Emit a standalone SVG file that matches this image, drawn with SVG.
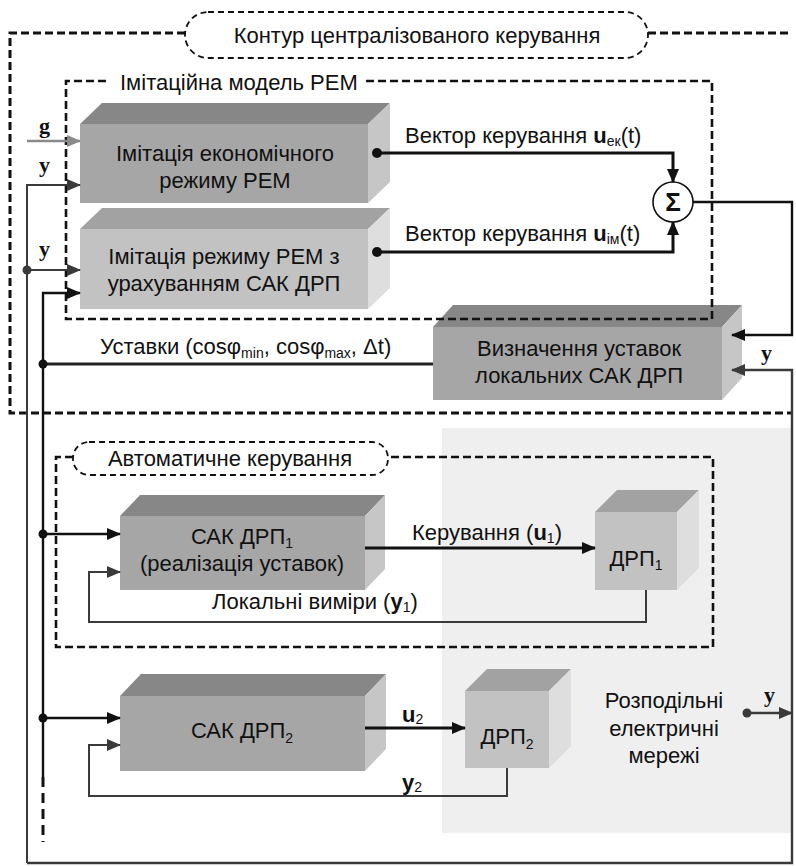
<svg xmlns="http://www.w3.org/2000/svg" width="796" height="866" viewBox="0 0 796 866" font-family="'Liberation Sans', 'Noto Sans', sans-serif">
<style>
text{font-family:'Liberation Sans','Noto Sans',sans-serif;font-size:22px;fill:#111}
.c{text-anchor:middle}
.b{font-weight:bold}
.lb{font-family:'Liberation Serif',serif;font-weight:bold;font-size:22px}
.sub{font-size:14px}
.dash{fill:none;stroke:#111;stroke-width:2.6;stroke-dasharray:8 4}
.pill{fill:#fff;stroke:#111;stroke-width:1.8;stroke-dasharray:6 4}
.dk .f{fill:#a6a6a6}.dk .t{fill:#878787}.dk .r{fill:#c6c6c6}
.lt .f{fill:#c2c2c2}.lt .t{fill:#a2a2a2}.lt .r{fill:#dedede}
.w{fill:none;stroke:#111;stroke-width:3}
.m{fill:none;stroke:#111;stroke-width:2.4}
.g{fill:none;stroke:#3a3a3a;stroke-width:2}
</style>
<defs>
<marker id="ab" markerUnits="userSpaceOnUse" markerWidth="14" markerHeight="12" refX="13" refY="6" orient="auto"><path d="M0,0 L14,6 L0,12 z" fill="#111"/></marker>
<marker id="ad" markerUnits="userSpaceOnUse" markerWidth="14" markerHeight="12" refX="13" refY="6" orient="auto"><path d="M0,0 L14,6 L0,12 z" fill="#3a3a3a"/></marker>
<marker id="ag" markerUnits="userSpaceOnUse" markerWidth="14" markerHeight="12" refX="13" refY="6" orient="auto"><path d="M0,0 L14,6 L0,12 z" fill="#8a8a8a"/></marker>
</defs>

<rect id="networks-bg" x="442" y="428" width="350" height="405" fill="#efefef"/>

<g id="block-econ" class="dk">
<polygon class="t" points="80,124 102,103 390,103 368,124"/>
<polygon class="r" points="368,124 390,103 390,182 368,203"/>
<rect class="f" x="80" y="124" width="288" height="79"/>
<text class="c" x="225" y="161">Імітація економічного</text>
<text class="c" x="225" y="188">режиму РЕМ</text>
</g>

<g id="block-sim" class="lt">
<polygon class="t" points="80,229 102,208 390,208 368,229"/>
<polygon class="r" points="368,229 390,208 390,288 368,309"/>
<rect class="f" x="80" y="229" width="288" height="80"/>
<text class="c" x="224" y="264">Імітація режиму РЕМ з</text>
<text class="c" x="224" y="291">урахуванням САК ДРП</text>
</g>

<g id="block-setpoints" class="dk">
<polygon class="t" points="433,327 453,305 742,305 722,327"/>
<polygon class="r" points="722,327 742,305 742,378 722,400"/>
<rect class="f" x="433" y="327" width="289" height="73"/>
<text class="c" x="579" y="356">Визначення уставок</text>
<text class="c" x="579" y="383">локальних САК ДРП</text>
</g>

<g id="block-sak1" class="dk">
<polygon class="t" points="120,516 140,495 385,495 365,516"/>
<polygon class="r" points="365,516 385,495 385,569 365,590"/>
<rect class="f" x="120" y="516" width="245" height="74"/>
<text class="c" x="242" y="544">САК ДРП<tspan class="sub" dy="4">1</tspan></text>
<text class="c" x="242" y="571">(реалізація уставок)</text>
</g>

<g id="block-drp1" class="lt">
<polygon class="t" points="595,512 617,490 699,490 677,512"/>
<polygon class="r" points="677,512 699,490 699,568 677,590"/>
<rect class="f" x="595" y="512" width="82" height="78"/>
<text class="c" x="636" y="566">ДРП<tspan class="sub" dy="4">1</tspan></text>
</g>

<g id="block-sak2" class="dk">
<polygon class="t" points="120,696 141,674 386,674 365,696"/>
<polygon class="r" points="365,696 386,674 386,749 365,771"/>
<rect class="f" x="120" y="696" width="245" height="75"/>
<text class="c" x="242" y="738">САК ДРП<tspan class="sub" dy="5">2</tspan></text>
</g>

<g id="block-drp2" class="lt">
<polygon class="t" points="465,691 487,669 571,669 549,691"/>
<polygon class="r" points="549,691 571,669 571,746 549,768"/>
<rect class="f" x="465" y="691" width="84" height="77"/>
<text class="c" x="507" y="744">ДРП<tspan class="sub" dy="5">2</tspan></text>
</g>

<g id="networks">
<text class="c" x="664" y="708">Розподільні</text>
<text class="c" x="664" y="736">електричні</text>
<text class="c" x="664" y="763">мережі</text>
</g>

<g id="sum">
<circle cx="673" cy="202" r="20" fill="#fff" stroke="#111" stroke-width="1.6"/>
<text class="c b" x="673" y="211" style="font-size:26px">Σ</text>
</g>

<g id="frames">
<path class="dash" d="M185,33 L10,33 L10,413 L792,413 M648,33 L792,33" style="stroke-width:3"/>
<rect class="pill" x="185" y="12" width="463" height="46" rx="23"/>
<text class="c" x="417" y="43">Контур централізованого керування</text>
<path class="dash" d="M106,81 L66,81 L66,319 L712,319 L712,81 L366,81"/>
<text x="120" y="90">Імітаційна модель РЕМ</text>
<path class="dash" d="M73,457 L56,457 L56,647 L713,647 L713,457 L388,457"/>
<rect class="pill" x="73" y="442" width="315" height="33" rx="16"/>
<text class="c" x="230" y="466">Автоматичне керування</text>
</g>

<g id="connectors">
<path d="M27,141 L80,141" fill="none" stroke="#8a8a8a" stroke-width="2.4" marker-end="url(#ag)"/>
<path class="g" d="M27,863 L27,185 L80,185" marker-end="url(#ad)"/>
<path class="g" d="M27,270 L80,270" marker-end="url(#ad)"/>
<circle cx="27" cy="270" r="4.5" fill="#3a3a3a"/>
<path class="g" d="M27,863 L792,863 L792,370 L732,370" style="stroke-width:2.4" marker-end="url(#ad)"/>
<path d="M747,713 L792,713" fill="none" stroke="#3a3a3a" stroke-width="2.6" marker-end="url(#ad)"/>
<circle cx="747" cy="713" r="4.5" fill="#3a3a3a"/>

<path class="w" d="M377,153 L673,153 L673,182" marker-end="url(#ab)"/>
<circle cx="377" cy="153" r="5" fill="#111"/>
<path class="w" d="M377,252 L673,252 L673,222" marker-end="url(#ab)"/>
<circle cx="377" cy="252" r="5" fill="#111"/>
<path class="m" d="M693,202 L792,202 L792,335 L732,335" marker-end="url(#ab)"/>

<path class="w" d="M433,364 L43,364" style="stroke:#222"/>
<circle cx="43" cy="364" r="4.5" fill="#111"/>
<path class="m" d="M43,777 L43,293 L80,293" marker-end="url(#ab)"/>
<path class="dash" d="M43,777 L43,842" style="stroke-width:3;stroke-dasharray:10 6"/>
<path class="m" d="M43,534 L120,534" marker-end="url(#ab)"/>
<circle cx="43" cy="534" r="4.5" fill="#111"/>
<path class="m" d="M43,718 L120,718" marker-end="url(#ab)"/>
<circle cx="43" cy="718" r="4.5" fill="#111"/>

<path class="w" d="M365,548 L595,548" marker-end="url(#ab)"/>
<path class="g" d="M646,590 L646,622 L89,622 L89,572 L120,572" marker-end="url(#ad)"/>
<path class="w" d="M365,728 L465,728" marker-end="url(#ab)"/>
<path class="g" d="M507,768 L507,796 L89,796 L89,745 L120,745" marker-end="url(#ad)"/>
</g>

<g id="labels">
<text class="lb" x="39" y="133">g</text>
<text class="lb" x="39" y="172">y</text>
<text class="lb" x="39" y="256">y</text>
<text x="405" y="143">Вектор керування <tspan class="b">u</tspan><tspan class="sub" dy="3">ек</tspan><tspan dy="-3">(t)</tspan></text>
<text x="405" y="241">Вектор керування <tspan class="b">u</tspan><tspan class="sub" dy="3">ім</tspan><tspan dy="-3">(t)</tspan></text>
<text x="100" y="354">Уставки (cosφ<tspan class="sub" dy="4">min</tspan><tspan dy="-4">, cosφ</tspan><tspan class="sub" dy="4">max</tspan><tspan dy="-4">, Δt)</tspan></text>
<text class="lb" x="761" y="360">y</text>
<text x="412" y="540">Керування (<tspan class="b">u</tspan><tspan class="sub" dy="3">1</tspan><tspan dy="-3">)</tspan></text>
<text x="212" y="609">Локальні виміри (<tspan class="b">y</tspan><tspan class="sub" dy="3">1</tspan><tspan dy="-3">)</tspan></text>
<text x="402" y="722"><tspan class="b">u</tspan><tspan class="sub" dy="2">2</tspan></text>
<text x="402" y="790"><tspan class="b">y</tspan><tspan class="sub" dy="2">2</tspan></text>
<text class="lb" x="764" y="702">y</text>
</g>
</svg>
